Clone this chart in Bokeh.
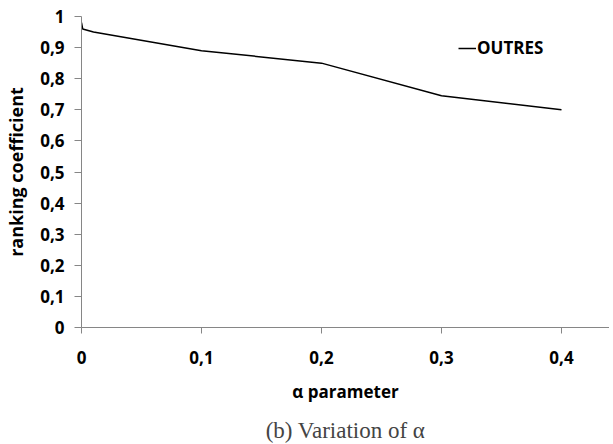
from bokeh.plotting import figure
from bokeh.models import (FixedTicker, CustomJSTickFormatter, Range1d, Legend,
                          LegendItem, Title)
from bokeh.embed import file_html
from bokeh.resources import INLINE

alpha = [0, 0.001, 0.01, 0.1, 0.2, 0.3, 0.4]
ranking = [0.98, 0.96, 0.95, 0.89, 0.85, 0.745, 0.70]
x_ticks = [0, 0.1, 0.2, 0.3, 0.4]
y_ticks = [0, 0.1, 0.2, 0.3, 0.4, 0.5, 0.6, 0.7, 0.8, 0.9, 1.0]
series_name = "OUTRES"
x_title = "α parameter"
y_title = "ranking coefficient"
caption = "(b) Variation of α"

FONT = "Open Sans"

p = figure(output_backend="svg", toolbar_location=None,
           frame_width=528, frame_height=311,
           x_range=Range1d(0, 0.44), y_range=Range1d(0, 1),
           min_border_left=81, min_border_top=16, min_border_right=0,
           min_border_bottom=0)
p.outline_line_color = None
p.xgrid.visible = False
p.ygrid.visible = False
p.background_fill_color = "white"
p.border_fill_color = "white"

r = p.line(alpha, ranking, line_color="black", line_width=1.5)

fmt = CustomJSTickFormatter(code="""
var v = Math.round(tick*10)/10;
if (v === 0) return '0';
if (v === 1) return '1';
return v.toFixed(1).replace('.', ',');
""")

for ax in (p.xaxis[0], p.yaxis[0]):
    ax.formatter = fmt
    ax.axis_line_color = "#868686"
    ax.major_tick_line_color = "#868686"
    ax.minor_tick_line_color = None
    ax.major_tick_in = 0
    ax.major_label_text_font = FONT
    ax.major_label_text_font_style = "bold"
    ax.major_label_text_font_size = "17px"
    ax.major_label_text_color = "black"
    ax.axis_label_text_font = FONT
    ax.axis_label_text_font_style = "bold"
    ax.axis_label_text_color = "black"

p.xaxis[0].ticker = FixedTicker(ticks=x_ticks)
p.yaxis[0].ticker = FixedTicker(ticks=y_ticks)
p.yaxis[0].major_tick_out = 7
p.xaxis[0].major_tick_out = 6
p.yaxis[0].major_label_standoff = 10
p.xaxis[0].major_label_standoff = 17
p.yaxis[0].axis_label = y_title
p.xaxis[0].axis_label = x_title
p.yaxis[0].axis_label_text_font_size = "18px"
p.xaxis[0].axis_label_text_font_size = "17px"
p.yaxis[0].axis_label_standoff = 9
p.xaxis[0].axis_label_standoff = 13

legend = Legend(items=[LegendItem(label=series_name, renderers=[r])],
                location=(377, 268), border_line_color=None,
                background_fill_alpha=0, padding=0, margin=0,
                glyph_width=18, label_standoff=1,
                label_text_font=FONT, label_text_font_style="bold",
                label_text_font_size="17px", label_text_color="black")
p.add_layout(legend)

p.add_layout(Title(text=caption, align="center", text_font="Liberation Serif",
                   text_font_style="normal", text_font_size="23px",
                   standoff=20), "below")

open("out.html", "w").write(file_html(p, INLINE))
